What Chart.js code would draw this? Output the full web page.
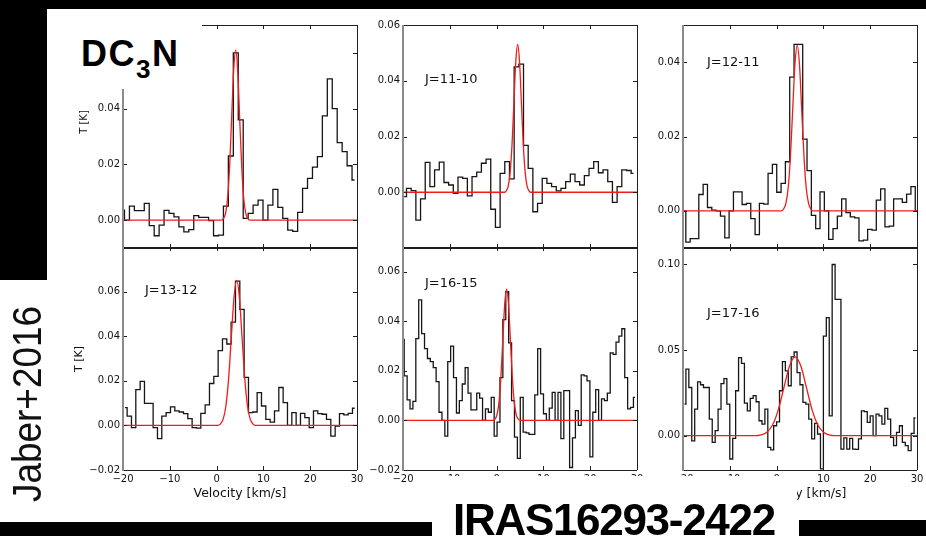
<!DOCTYPE html>
<html>
<head>
<meta charset="utf-8">
<script src="https://cdn.jsdelivr.net/npm/chart.js@4.4.1/dist/chart.umd.min.js"></script>
<style>
  html, body { margin: 0; padding: 0; background: #fff; }
  #page { position: relative; width: 926px; height: 536px; overflow: hidden; background: #fff; }
  canvas { position: absolute; }
  .blk { position: absolute; background: #000; z-index: 5; }
  .txt { position: absolute; white-space: nowrap; color: #111; }
  .ax { font-family: "DejaVu Sans", sans-serif; }
</style>
</head>
<body>
<div id="page"></div>
<script>
// --- Daten ---
const panelTitles = ["", "J=11-10", "J=12-11", "J=13-12", "J=16-15", "J=17-16"];

// Kanal-Raster der Spektren: Mitte des ersten Kanals und Kanalbreite (km/s)
const velStart = [-20.21, -19.75, -19.86, -19.58, -20.05, -19.69];
const velStep = [1.057, 1.0, 0.925, 0.926, 0.62, 0.625];

// gemessene Spektren T [K]
const specA = [0.0036, 0.0, 0.005, 0.0034, 0.0034, 0.006, -0.002, -0.0056, -0.0018, 0.0035, 0.0024, 0.0012,
  -0.0024, -0.0042, -0.0034, 0.0016, 0.001, 0.001, -0.0002, -0.0056, -0.0054, 0.005, 0.023, 0.060,
  0.036, 0.0006, 0.0024, 0.0054, 0.0072, 0.0, 0.0054, 0.011, 0.0046, 0.0006, -0.0036, -0.004,
  0.0028, 0.0114, 0.015, 0.019, 0.0228, 0.0374, 0.0507, 0.040, 0.0278, 0.0246, 0.0195, 0.0144];
const specB = [-0.0016, 0.0014, 0.0006, -0.010, -0.0024, 0.0107, 0.002, 0.008, 0.0108, 0.0035, 0.0026, -0.0004,
  0.0054, 0.005, -0.0013, 0.0056, 0.0072, 0.0104, 0.0119, -0.0061, -0.0126, 0.0068, 0.011, 0.0048,
  0.045, 0.046, 0.0168, 0.0086, -0.007, -0.004, 0.005, 0.0032, 0.002, 0.0005, 0.0014, 0.0038,
  0.0065, 0.0038, 0.0026, 0.006, 0.0086, 0.011, 0.007, 0.008, 0.0038, -0.0036, 0.002, 0.008, 0.0078, 0.0068];
const specC = [0.0, -0.0084, -0.0075, -0.0075, 0.0044, 0.0071, 0.0009, 0.0002, 0.0, -0.0014, -0.0073, 0.0,
  0.0051, 0.0051, 0.0017, 0.002, -0.0021, -0.0064, 0.002, 0.0018, 0.0101, 0.0125, 0.005, 0.0074,
  0.0132, 0.036, 0.0448, 0.0448, 0.0193, 0.0108, -0.0012, -0.0048, 0.0051, 0.0, -0.0077, -0.0048,
  -0.0014, 0.0032, -0.0005, -0.0016, -0.0019, -0.0081, -0.0079, -0.005, -0.0052, 0.0029, 0.0059, -0.0043,
  -0.0041, 0.0032, 0.0032, 0.0023, 0.0045, 0.0065, 0.0];
const specD = [0.008, 0.0042, -0.001, 0.016, 0.0197, 0.0099, 0.0099, -0.001, -0.0059, 0.0042, 0.0057, 0.0083,
  0.0065, 0.006, 0.0053, 0.003, -0.001, -0.0012, 0.0054, 0.0092, 0.0188, 0.022, 0.0335, 0.0388,
  0.0365, 0.0463, 0.0647, 0.052, 0.0215, 0.0057, 0.006, 0.0147, 0.0087, 0.0027, 0.0015, 0.0065,
  0.017, 0.0102, 0.0, 0.0057, 0.0, 0.0054, 0.0035, -0.001, 0.0065, 0.0053, 0.005, 0.0027,
  -0.0048, -0.0003, 0.0053, 0.0047, 0.0054, 0.0077];
const specE = [0.0327, 0.018, 0.0083, 0.0047, 0.0077, 0.033, 0.0487, 0.035, 0.029, 0.025, 0.0237, 0.0213,
  0.0157, 0.0033, 0.0, -0.0063, 0.0237, 0.030, 0.0173, 0.003, 0.008, 0.0147, 0.0213, 0.011,
  0.0043, 0.0043, 0.011, 0.009, 0.0, 0.0047, 0.0033, 0.0093, -0.0063, -0.0007, 0.0173, 0.0407,
  0.052, 0.0313, 0.008, -0.0067, -0.0153, 0.0093, -0.0047, -0.005, -0.0056, -0.0056, 0.0103, 0.029,
  0.0107, 0.0027, 0.0, 0.005, 0.0113, 0.0, 0.0113, -0.0073, 0.012, 0.012, -0.019, -0.007,
  0.004, -0.002, 0.0184, 0.018, 0.016, -0.0147, 0.0033, 0.0124, 0.0, 0.0087, 0.008, 0.011,
  0.0273, 0.0267, 0.0316, 0.034, 0.037, 0.0173, 0.0047, 0.0053, 0.0093];
const specF = [0.0184, 0.0388, 0.0281, -0.003, 0.0155, 0.0314, 0.0297, 0.0281, 0.0281, 0.0097, -0.0039, 0.0029,
  0.0155, 0.0304, 0.0333, 0.0184, -0.0136, -0.0016, 0.0262, 0.0455, 0.0422, 0.019, 0.0145, 0.0217,
  0.0233, 0.0198, 0.0087, 0.0068, 0.0155, -0.0068, -0.0083, 0.0058, 0.0081, 0.0262, 0.0432, 0.0378,
  0.0291, 0.0459, 0.0488, 0.0368, 0.0297, 0.0194, 0.0184, 0.0097, -0.0019, 0.0072, 0.001, -0.0194,
  0.058, 0.0688, 0.0116, 0.0998, 0.0795, 0.0795, -0.0078, -0.0013, -0.0078, -0.0016, -0.0078, -0.008,
  -0.0019, 0.0145, 0.014, 0.0078, 0.0116, 0.0, 0.0126, 0.0116, 0.0068, 0.0159, 0.0097, -0.001,
  -0.0058, 0.0019, 0.0058, -0.0039, -0.0058, -0.0087, 0.0014, 0.0103];
const spectra = [specA, specB, specC, specD, specE, specF];

const fitA = [[-20, 0], [1.1, 0], [1.52, 0.0007], [1.95, 0.0027], [2.37, 0.0083], [2.8, 0.0198], [3.22, 0.037], [3.65, 0.0538],
  [4.07, 0.061], [4.5, 0.0538], [4.92, 0.037], [5.35, 0.0198], [5.77, 0.0083], [6.2, 0.0027], [6.62, 0.0007], [7.05, 0], [30, 0]];
const fitB = [[-20, 0], [1.7, 0], [2.1, 0.0006], [2.5, 0.0023], [2.9, 0.0072], [3.3, 0.0172], [3.7, 0.0321], [4.1, 0.0468],
  [4.5, 0.053], [4.9, 0.0468], [5.3, 0.0321], [5.7, 0.0172], [6.1, 0.0072], [6.5, 0.0023], [6.9, 0.0006], [7.3, 0], [30, 0]];
const fitC = [[-20, 0], [1.0, 0], [1.49, 0.0005], [1.98, 0.002], [2.46, 0.006], [2.95, 0.0144], [3.43, 0.027], [3.92, 0.0393],
  [4.4, 0.0445], [4.89, 0.0393], [5.37, 0.027], [5.86, 0.0144], [6.34, 0.006], [6.83, 0.002], [7.31, 0.0005], [7.8, 0], [30, 0]];
const fitD = [[-20, 0], [0.29, 0], [0.84, 0.0007], [1.42, 0.0029], [1.99, 0.0088], [2.57, 0.0211], [3.14, 0.0394], [3.72, 0.0574],
  [4.29, 0.065], [4.87, 0.0574], [5.44, 0.0394], [6.02, 0.0211], [6.59, 0.0088], [7.17, 0.0029], [7.74, 0.0007], [8.29, 0], [30, 0]];
const fitE = [[-20, 0], [-0.76, 0], [-0.32, 0.0006], [0.09, 0.0023], [0.5, 0.0072], [0.91, 0.0172], [1.32, 0.0321], [1.73, 0.0468],
  [2.14, 0.053], [2.55, 0.0468], [2.96, 0.0321], [3.37, 0.0172], [3.78, 0.0072], [4.19, 0.0023], [4.6, 0.0006], [5.04, 0], [30, 0]];
const fitF = [[-20, 0], [-4.53, 0], [-3.29, 0.0005], [-2.08, 0.002], [-0.87, 0.0062], [0.34, 0.0149], [1.55, 0.0279], [2.76, 0.0406],
  [3.97, 0.046], [5.18, 0.0406], [6.39, 0.0279], [7.6, 0.0149], [8.81, 0.0062], [10.02, 0.002], [11.23, 0.0005], [12.47, 0], [30, 0]];
const fits = [fitA, fitB, fitC, fitD, fitE, fitF];

// Achsen
const xTicks = [-20, -10, 0, 10, 20, 30];
const yMin = [-0.01, -0.02, -0.01, -0.02, -0.02, -0.02];
const yMax = [0.07, 0.06, 0.05, 0.08, 0.07, 0.11];
const yTicks = [
  [0, 0.02, 0.04, 0.06],
  [-0.02, 0, 0.02, 0.04, 0.06],
  [0, 0.02, 0.04],
  [-0.02, 0, 0.02, 0.04, 0.06, 0.08],
  [-0.02, 0, 0.02, 0.04, 0.06],
  [0, 0.05, 0.10]
];
const yTickLabels = [
  [0, 0.02, 0.04],
  [0, 0.02, 0.04, 0.06],
  [0, 0.02, 0.04],
  [-0.02, 0, 0.02, 0.04, 0.06],
  [-0.02, 0, 0.02, 0.04, 0.06],
  [0, 0.05, 0.10]
];

// --- Layout ---
const page = document.getElementById("page");
const boxes = [
  { x: 123, y: 25 }, { x: 403, y: 25 }, { x: 683, y: 25 },
  { x: 123, y: 247 }, { x: 403, y: 247 }, { x: 683, y: 247 }
];
const W = 234, H = 223;
const PADL = 60, PADT = 12, PADR = 12, PADB = 30;

function fmtNum(v, d) {
  const s = Math.abs(v).toFixed(d);
  return v < -1e-9 ? "\u2212" + s : s;
}

const framePlugin = {
  id: "frame",
  afterDatasetsDraw(chart) {
    const { ctx, chartArea: a, scales } = chart;
    const L = Math.round(a.left), R = Math.round(a.right), T = Math.round(a.top), B = Math.round(a.bottom);
    ctx.save();
    ctx.strokeStyle = "#1e1e1e";
    ctx.lineWidth = 1;
    ctx.beginPath();
    scales.x.ticks.forEach((t) => {
      const px = Math.round(scales.x.getPixelForValue(t.value)) + 0.5;
      ctx.moveTo(px, B); ctx.lineTo(px, B - 4);
      ctx.moveTo(px, T); ctx.lineTo(px, T + 4);
    });
    scales.y.ticks.forEach((t) => {
      const py = Math.round(scales.y.getPixelForValue(t.value)) + 0.5;
      ctx.moveTo(L, py); ctx.lineTo(L + 4, py);
      ctx.moveTo(R, py); ctx.lineTo(R - 4, py);
    });
    ctx.moveTo(L, T + 0.5); ctx.lineTo(R, T + 0.5);
    ctx.moveTo(L, B + 0.5); ctx.lineTo(R, B + 0.5);
    ctx.moveTo(R + 0.5, T); ctx.lineTo(R + 0.5, B);
    ctx.stroke();
    ctx.strokeStyle = "#8c8c8c";
    ctx.lineWidth = 2;
    ctx.beginPath();
    ctx.moveTo(L, T); ctx.lineTo(L, B + 1);
    ctx.stroke();
    ctx.restore();
  }
};

boxes.forEach((b, i) => {
  const cv = document.createElement("canvas");
  cv.width = W + PADL + PADR;
  cv.height = H + PADT + PADB;
  cv.style.left = (b.x - PADL) + "px";
  cv.style.top = (b.y - PADT) + "px";
  cv.style.zIndex = 1;
  page.appendChild(cv);

  const steps = spectra[i].map((t, k) => ({ x: velStart[i] + k * velStep[i], y: t }));
  const fit = fits[i].map((p) => ({ x: p[0], y: p[1] }));
  const bottomRow = i >= 3;
  const shown = yTickLabels[i];

  new Chart(cv.getContext("2d"), {
    type: "line",
    data: {
      datasets: [
        {
          label: "Fit",
          data: fit,
          borderColor: "#f01c1c",
          borderWidth: 1.3,
          pointRadius: 0,
          cubicInterpolationMode: "monotone",
          order: 0
        },
        {
          label: "Spektrum",
          data: steps,
          borderColor: "#161616",
          borderWidth: 1.3,
          pointRadius: 0,
          stepped: "middle",
          order: 1
        }
      ]
    },
    options: {
      responsive: false,
      animation: false,
      devicePixelRatio: 1,
      layout: { padding: { top: PADT, right: PADR, left: 0, bottom: 0 } },
      plugins: { legend: { display: false }, tooltip: { enabled: false } },
      scales: {
        x: {
          type: "linear",
          min: -20,
          max: 30,
          afterFit(s) { s.height = PADB; },
          afterBuildTicks(s) { s.ticks = xTicks.map((v) => ({ value: v })); },
          grid: { display: false, drawTicks: false },
          border: { display: false },
          ticks: {
            display: bottomRow,
            padding: 3,
            color: "#111",
            font: { family: "DejaVu Sans", size: 10 },
            maxRotation: 0,
            autoSkip: false,
            callback: (v) => fmtNum(v, 0)
          }
        },
        y: {
          type: "linear",
          min: yMin[i],
          max: yMax[i],
          afterFit(s) { s.width = PADL; },
          afterBuildTicks(s) { s.ticks = yTicks[i].map((v) => ({ value: v })); },
          grid: { display: false, drawTicks: false },
          border: { display: false },
          ticks: {
            padding: 3,
            color: "#111",
            font: { family: "DejaVu Sans", size: 10 },
            autoSkip: false,
            callback: (v) => (shown.some((s) => Math.abs(s - v) < 1e-6) ? fmtNum(v, 2) : "")
          }
        }
      }
    },
    plugins: [framePlugin]
  });
});

// --- Texte ---
function addText(html, css, cls) {
  const d = document.createElement("div");
  d.className = "txt " + (cls || "");
  d.innerHTML = html;
  Object.assign(d.style, css);
  page.appendChild(d);
  return d;
}

// Panel-Beschriftungen
const titlePos = [null, [425, 72], [707, 55], [145, 283], [425, 276], [707, 306]];
panelTitles.forEach((t, i) => {
  if (!t) return;
  addText(t, { left: titlePos[i][0] + "px", top: titlePos[i][1] + "px", fontSize: "13px", lineHeight: "13px", zIndex: 3 }, "ax");
});

// Achsentitel
addText("T [K]", { left: "84px", top: "122px", fontSize: "10px", lineHeight: "10px", transform: "translate(-50%,-50%) rotate(-90deg)", zIndex: 3 }, "ax");
addText("T [K]", { left: "78px", top: "359px", fontSize: "11px", lineHeight: "11px", transform: "translate(-50%,-50%) rotate(-90deg)", zIndex: 3 }, "ax");
[240, 520, 800].forEach((cx) => {
  addText("Velocity [km/s]", { left: cx + "px", top: "486px", fontSize: "12.5px", lineHeight: "13px", transform: "translateX(-50%)", zIndex: 3 }, "ax");
});

// weiße Abdeckungen mit Folientexten
addText('DC<span style="font-size:26px;vertical-align:-12px;">3</span>N', {
  left: "47px", top: "9px", width: "155px", height: "80px", background: "#fff", zIndex: 4,
  fontFamily: "'Liberation Sans', Arial, sans-serif", fontWeight: "bold", fontSize: "36px",
  lineHeight: "36px", paddingTop: "27px", paddingLeft: "34px", boxSizing: "border-box", letterSpacing: "1.5px", color: "#000"
});
addText("IRAS16293-2422", {
  left: "413px", top: "476px", width: "384px", height: "60px", background: "#fff", zIndex: 4,
  fontFamily: "'Liberation Sans', Arial, sans-serif", fontWeight: "bold", fontSize: "44px",
  lineHeight: "44px", paddingTop: "22px", paddingLeft: "40px", boxSizing: "border-box", letterSpacing: "-1.3px", color: "#000"
});
addText("Jaber+2016", {
  left: "27px", top: "404px", fontFamily: "'Liberation Sans', Arial, sans-serif", fontSize: "41px", lineHeight: "41px",
  transform: "translate(-50%,-50%) rotate(-90deg) scaleX(0.9)", zIndex: 4, color: "#111"
});

// schwarze Ränder der Folie
[[0, 0, 926, 9], [0, 0, 47, 280], [0, 522, 432, 14], [799, 520, 127, 16]].forEach((r) => {
  const d = document.createElement("div");
  d.className = "blk";
  Object.assign(d.style, { left: r[0] + "px", top: r[1] + "px", width: r[2] + "px", height: r[3] + "px" });
  page.appendChild(d);
});
</script>
</body>
</html>
